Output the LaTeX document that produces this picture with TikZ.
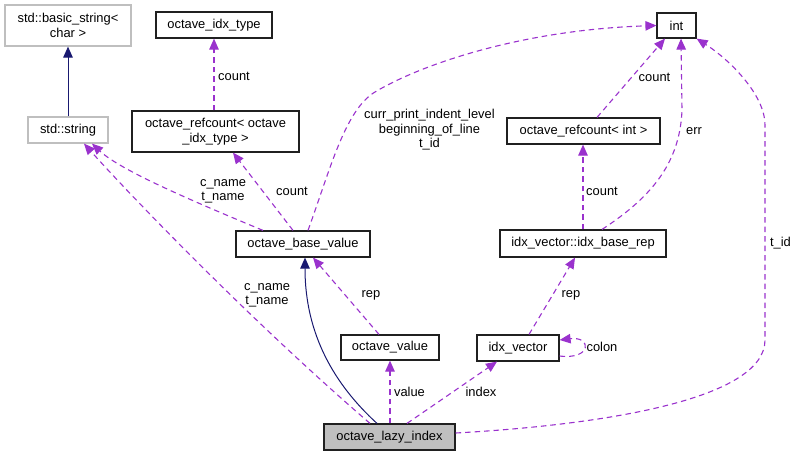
\documentclass[tikz,border=0pt]{standalone}
\usepackage{fontspec}
\setmainfont{Liberation Sans}
\usetikzlibrary{arrows.meta}
\definecolor{edgepurple}{HTML}{9A32CD}
\definecolor{inhnavy}{HTML}{191970}
\definecolor{boxgray}{HTML}{BFBFBF}
\definecolor{boxline}{HTML}{202020}
\tikzset{
  cls/.style={draw=boxline, line width=1.2pt, inner sep=0pt, align=center, font=\fontsize{12.9}{14.5}\selectfont},
  extcls/.style={cls, draw=boxgray},
  maincls/.style={cls, fill=boxgray},
  usage/.style={draw=edgepurple, line width=1.1pt, dash pattern=on 5.5pt off 4pt, -{Triangle[length=11pt,width=9.5pt]}, edgepurple},
  inh/.style={draw=inhnavy, line width=1pt, -{Triangle[length=11pt,width=9.5pt]}, inhnavy},
  lbl/.style={inner sep=0pt, align=center, font=\fontsize{12.9}{14.5}\selectfont},
}
\begin{document}
\begin{tikzpicture}[x=1pt, y=-1pt]
\useasboundingbox (0,0) rectangle (797,456);
% nodes
\node[extcls, minimum width=126pt, minimum height=41pt] (bs) at (68,25.5) {std::basic\_string<\\char >};
\node[cls, minimum width=116pt, minimum height=26pt] (oit) at (214,25) {octave\_idx\_type};
\node[extcls, minimum width=80pt, minimum height=26pt] (ss) at (68,130) {std::string};
\node[cls, minimum width=167pt, minimum height=41pt] (orc) at (215.5,131.5) {octave\_refcount< octave\\\_idx\_type >};
\node[cls, minimum width=134pt, minimum height=26pt] (obv) at (303,244) {octave\_base\_value};
\node[cls, minimum width=39pt, minimum height=25pt] (int) at (676.5,25.5) {int};
\node[cls, minimum width=153pt, minimum height=26pt] (orci) at (583.5,131) {octave\_refcount< int >};
\node[cls, minimum width=166pt, minimum height=27pt] (ibr) at (583,243.5) {idx\_vector::idx\_base\_rep};
\node[cls, minimum width=98pt, minimum height=25pt] (ov) at (390,347.5) {octave\_value};
\node[cls, minimum width=82pt, minimum height=26pt] (iv) at (518,348) {idx\_vector};
\node[maincls, minimum width=131pt, minimum height=26pt] (oli) at (389.5,437) {octave\_lazy\_index};

% edges
\draw[inh] (ss.north) -- (bs.south);
\draw[usage] (oit.south |- orc.north) -- (oit.south);
\node[lbl] (l1) at (234,76) {count};

\draw[usage] ([xshift=-10pt]obv.north) -- ([xshift=17.5pt]orc.south);
\node[lbl] (l2) at (292,191) {count};

\draw[usage] ([xshift=-40pt]obv.north) .. controls (190,200) and (120,170) .. ([xshift=24pt]ss.south);
\node[lbl] (l3) at (223,191.5) {c\_name\\t\_name};

\draw[usage] ([xshift=5pt]obv.north) .. controls (330,170) and (345,110) .. (375,92) .. controls (420,65) and (520,30) .. (int.west);
\node[lbl] (l4) at (429.5,130) {curr\_print\_indent\_level\\beginning\_of\_line\\t\_id};

\draw[usage] ([xshift=13.5pt]orci.north) -- ([xshift=-11.5pt]int.south);
\node[lbl] (l5) at (654.5,77) {count};

\draw[usage] (ibr.north) -- (ibr.north |- orci.south);
\node[lbl] (l6) at (602,191) {count};

\draw[usage] ([xshift=19pt]ibr.north) .. controls (655,195) and (680,160) .. (682,110) -- ([xshift=4.5pt]int.south);
\node[lbl] (l7) at (694,131) {err};

\draw[usage] ([xshift=11pt]iv.north) -- ([xshift=-8pt]ibr.south);
\node[lbl] (l8) at (571,295) {rep};

\draw[usage] ([yshift=-8pt]iv.east) .. controls (592,360) and (592,336) .. ([yshift=8pt]iv.east);
\node[lbl] (l9) at (602,347) {colon};

\draw[usage] ([xshift=-11pt]ov.north) -- ([xshift=10pt]obv.south);
\node[lbl] (l10) at (371,295) {rep};

\draw[inh] ([xshift=-12.5pt]oli.north) .. controls (335,385) and (305,335) .. ([xshift=2pt]obv.south);

\draw[usage] ([xshift=-19.5pt]oli.north) .. controls (250,320) and (130,195) .. ([xshift=16pt]ss.south);
\node[lbl] (l11) at (267,295.5) {c\_name\\t\_name};

\draw[usage] (ov.south |- oli.north) -- (ov.south);
\node[lbl] (l12) at (409.5,392) {value};

\draw[usage] ([xshift=17.5pt]oli.north) -- ([xshift=-21pt]iv.south);
\node[lbl] (l13) at (481,392) {index};

\draw[usage] ([yshift=4pt]oli.east) .. controls (600,425) and (765,400) .. (765,340) -- (765,125) .. controls (765,95) and (730,60) .. (int.south east);
\node[lbl] (l14) at (780.5,243) {t\_id};
\end{tikzpicture}
\end{document}
